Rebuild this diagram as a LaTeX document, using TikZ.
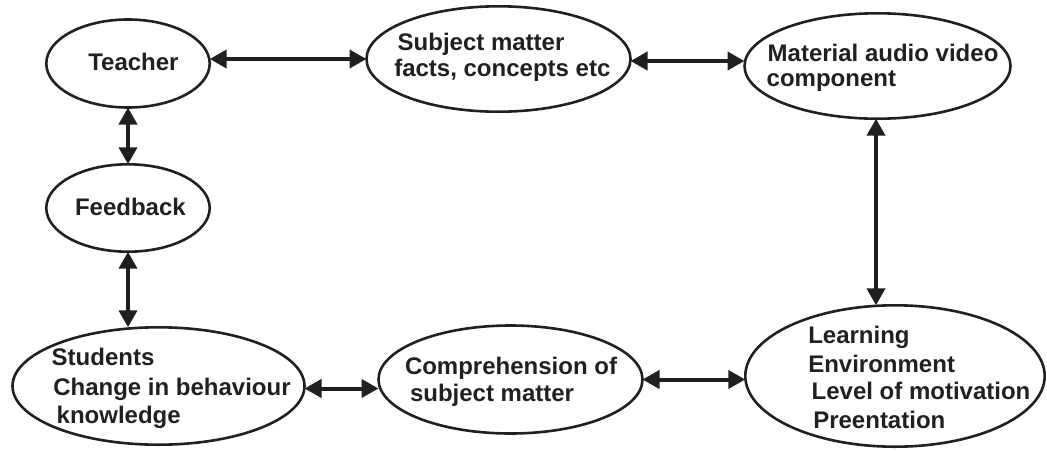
\documentclass[tikz,border=0pt]{standalone}
\usepackage{fontspec}
\setmainfont{Liberation Sans}
\usetikzlibrary{shapes.geometric,arrows.meta}
\definecolor{ink}{HTML}{231F20}
\begin{document}
\begin{tikzpicture}[x=1pt,y=-1pt,
  bubble/.style={draw=ink,line width=2.6pt,ellipse,inner sep=0pt,outer sep=0pt},
  txt/.style={anchor=base west,inner sep=0pt,outer sep=0pt,text=ink,
    font=\fontsize{24}{28}\selectfont\bfseries},
  biarrow/.style={draw=ink,line width=4pt,
    {Triangle[length=17pt,width=18pt]}-{Triangle[length=17pt,width=18pt]}}]
\useasboundingbox (0,0) rectangle (1047,450);
% ellipses
\node[bubble,minimum width=163.4pt,minimum height=88pt] (teacher) at (128,63.5) {};
\node[bubble,minimum width=163.4pt,minimum height=87.4pt] (feedback) at (128,208) {};
\node[bubble,minimum width=264pt,minimum height=105.4pt] (subject) at (498.5,59) {};
\node[bubble,minimum width=266pt,minimum height=105.4pt] (material) at (877.5,66) {};
\node[bubble,minimum width=299.4pt,minimum height=141.4pt] (learning) at (895,376) {};
\node[bubble,minimum width=264pt,minimum height=108pt] (comp) at (510.5,379.5) {};
\node[bubble,minimum width=292pt,minimum height=117.4pt] (students) at (158.5,386) {};
% texts
\node[txt] (t1) at (88.3,70.7) {Teacher};
\node[txt] (f1) at (75,215) {Feedback};
\node[txt] (s1) at (397.7,50.7) {Subject matter};
\node[txt] (s2) at (394.3,76) {facts, concepts etc};
\node[txt] (m1) at (767.7,61.7) {Material audio video};
\node[txt] (m2) at (766.7,86) {component};
\node[txt] (l1) at (808.3,343.3) {Learning};
\node[txt] (l2) at (808.3,372.7) {Environment};
\node[txt] (l3) at (811.7,399.3) {Level of motivation};
\node[txt] (l4) at (813.3,428.3) {Preentation};
\node[txt] (c1) at (405,374) {Comprehension of};
\node[txt] (c2) at (410,401.7) {subject matter};
\node[txt] (st1) at (51.7,365) {Students};
\node[txt] (st2) at (53.3,395.7) {Change in behaviour};
\node[txt] (st3) at (56.7,423.3) {knowledge};
% connectors
\draw[biarrow] (teacher.east |- subject.west) -- (subject.west);
\draw[biarrow] ([yshift=-2pt]subject.east) -- ([yshift=-2pt]subject.east -| material.west);
\draw[biarrow] (teacher.south) -- (feedback.north);
\draw[biarrow] (feedback.south) -- (feedback.south |- students.north);
\draw[biarrow] (material.south -| 876,0) -- (learning.north -| 876,0);
\draw[biarrow] ([yshift=-2.5pt]students.east) -- ([yshift=-2.5pt]students.east -| comp.west);
\draw[biarrow] (comp.east) -- (comp.east -| learning.west);
\end{tikzpicture}
\end{document}
